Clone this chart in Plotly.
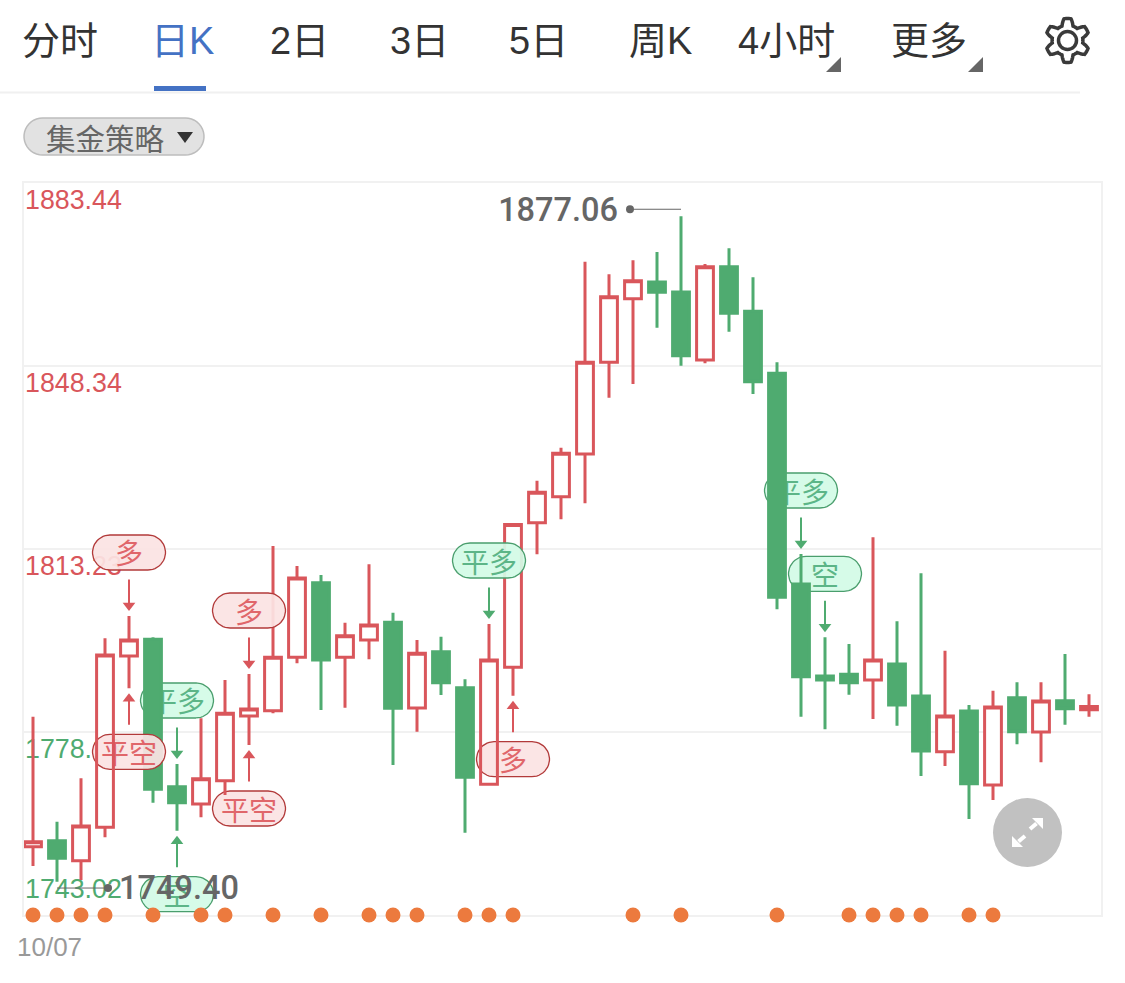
import numpy as np
import plotly.graph_objects as go

# ---- data -------------------------------------------------------------
date_label = "10/07"
open_ = [1756.12,1757.27,1753.44,1759.84,1792.70,1795.91,1767.63,1764.31,1768.78,1781.19,
         1782.21,1792.46,1806.77,1792.46,1795.77,1799.17,1782.73,1793.53,1786.62,1768.09,
         1790.54,1818.28,1823.26,1831.45,1849.04,1861.25,1864.45,1862.53,1849.49,1867.38,
         1858.83,1846.93,1806.52,1788.87,1789.19,1788.10,1791.17,1785.03,1774.35,1782.15,
         1767.96,1784.70,1778.13,1784.13,1782.40]
high  = [1781.06,1760.92,1769.24,1796.10,1800.38,1796.29,1771.99,1780.75,1788.10,1789.25,
         1813.81,1809.97,1808.24,1799.09,1810.29,1801.01,1795.77,1796.41,1788.23,1798.84,
         1818.03,1826.33,1832.66,1868.34,1865.93,1868.61,1870.20,1877.06,1867.90,1870.91,
         1865.35,1849.04,1812.27,1796.29,1795.01,1815.47,1799.36,1808.57,1793.72,1783.30,
         1786.05,1787.66,1787.66,1793.09,1785.36]
low   = [1752.42,1749.40,1749.73,1757.93,1786.51,1764.56,1759.19,1761.76,1766.04,1775.63,
         1781.71,1791.30,1782.35,1782.79,1792.07,1771.79,1778.18,1785.22,1758.81,1768.05,
         1785.09,1812.21,1818.93,1822.00,1842.25,1844.88,1855.68,1848.39,1848.85,1854.91,
         1842.96,1801.66,1781.06,1778.64,1785.28,1780.62,1779.33,1769.68,1771.60,1761.44,
         1765.08,1775.76,1772.31,1779.53,1781.06]
close = [1757.08,1753.90,1760.09,1792.90,1795.77,1767.13,1764.56,1769.17,1781.71,1782.54,
         1792.46,1807.67,1791.94,1796.60,1798.65,1782.67,1793.22,1787.58,1769.43,1791.94,
         1817.95,1824.11,1831.59,1849.04,1861.63,1864.70,1862.47,1850.31,1867.38,1858.44,
         1845.32,1803.96,1788.73,1788.10,1787.58,1791.94,1783.30,1774.48,1781.19,1768.21,
         1782.92,1778.18,1784.07,1782.60,1783.00]
tick_values = [1883.44, 1848.34, 1813.23, 1778.13, 1743.02]
tick_labels = ["1883.44", "1848.34", "1813.23", "1778.13", "1743.02"]
dot_indices = [0,1,2,3,5,7,8,10,12,14,15,16,18,19,20,25,27,31,34,35,36,37,39,40]
# (bar index, label, side: "above"/"below" the bar, colour group)
signals = [(4,"多","above","red"),(4,"平空","below","red"),
           (6,"平多","above","green"),(6,"空","below","green"),
           (9,"多","above","red"),(9,"平空","below","red"),
           (19,"平多","above","green"),(20,"多","below","red"),
           (32,"平多","above","green"),(33,"空","above","green")]
tabs = [("分时",60),("日K",182),("2日",299),("3日",419),("5日",538),("周K",660),("4小时",786),("更多",929)]

# ---- layout constants --------------------------------------------------
W, H = 1125, 983
L, R, T, B = 24, 1101, 183, 915
BAR_PX = 24.0
XMIN = -0.375
XMAX = XMIN + (R - L) / BAR_PX
YMIN, YMAX = 1743.02, 1883.44
PX_PER_PRICE = (B - T) / (YMAX - YMIN)
RED, GREEN = "#d9565b", "#4fab70"
PILL = {"red": ("rgba(251,227,227,0.93)", "#b23a3a", "#e0666a"),
        "green": ("rgba(211,251,230,0.93)", "#4a9e6d", "#5cb587")}
CJK = "Noto Sans CJK SC"
LATIN = "Liberation Sans"
CLEAR = "rgba(255,255,255,0)"


def px(x): return (x - L) / (R - L)
def py(y): return 1 - (y - T) / (B - T)


def pill_outline(i, price, half=36.5, rad=17.5):
    a = np.linspace(-np.pi / 2, np.pi / 2, 24)
    xs = np.concatenate([half - rad + rad * np.cos(a), -(half - rad) - rad * np.cos(a[::-1])])
    ys = np.concatenate([rad * np.sin(a), rad * np.sin(a[::-1])])
    xs = np.append(xs, xs[0]); ys = np.append(ys, ys[0])
    return (i + xs / BAR_PX).tolist(), (price + ys / PX_PER_PRICE).tolist()


fig = go.Figure()


def nosel(**kw):
    return dict(hoverinfo="skip", showlegend=False, **kw)


# base layer: axis value labels sit below every candle
offs = [-19, -19, -19, -19, 24]
cols = [RED, RED, RED, GREEN, GREEN]
fig.add_trace(go.Scatter(x=[XMIN + 1 / BAR_PX] * 5, y=[v + o / PX_PER_PRICE for v, o in zip(tick_values, offs)],
                         text=tick_labels, mode="text", textposition="middle right",
                         textfont=dict(family=LATIN, size=26.8, color=cols), cliponaxis=False,
                         yaxis="y", **nosel()))

# white body interiors go below everything else, so a pill shows through hollow bodies
all_idx = list(range(len(open_)))
fig.add_trace(go.Candlestick(
    x=all_idx, open=open_, high=high, low=low, close=close,
    increasing=dict(line=dict(color=CLEAR, width=0), fillcolor="#ffffff"),
    decreasing=dict(line=dict(color=CLEAR, width=0), fillcolor=CLEAR),
    whiskerwidth=0, yaxis="y2", hoverinfo="skip", showlegend=False))

# layered right-to-left: a pill covers its own and later bars, earlier bars cover it
columns = sorted({s[0] for s in signals}, reverse=True)
starts = columns + [0] if columns[-1] != 0 else columns
end = len(open_)
layer = 3
for start in starts:
    idx = list(range(start, end))
    yname = f"y{layer}"
    fig.add_trace(go.Candlestick(
        x=idx, open=[open_[k] for k in idx], high=[high[k] for k in idx],
        low=[low[k] for k in idx], close=[close[k] for k in idx],
        increasing=dict(line=dict(color=RED, width=3), fillcolor=CLEAR),
        decreasing=dict(line=dict(color=GREEN, width=3), fillcolor=GREEN),
        whiskerwidth=0, yaxis=yname, hoverinfo="skip", showlegend=False))
    for (i, label, side, group) in signals:
        if i != start:
            continue
        fill, edge, txt = PILL[group]
        sign = 1 if side == "above" else -1
        base = high[i] if side == "above" else low[i]
        centre = base + sign * 63.5 / PX_PER_PRICE
        xs, ys = pill_outline(i, centre)
        fig.add_trace(go.Scatter(x=xs, y=ys, mode="lines", fill="toself", fillcolor=fill,
                                 line=dict(color=edge, width=1.3), yaxis=yname, **nosel()))
        fig.add_trace(go.Scatter(x=[i], y=[centre - 5 / PX_PER_PRICE], text=[label], mode="text",
                                 textposition="middle center",
                                 textfont=dict(family=CJK, size=28, color=txt), yaxis=yname, **nosel()))
        col = RED if group == "red" else GREEN
        tip_off = 5.5
        fig.add_trace(go.Scatter(x=[i, i],
                                 y=[base + sign * (tip_off + 31) / PX_PER_PRICE,
                                    base + sign * (tip_off + 5) / PX_PER_PRICE],
                                 mode="lines", line=dict(color=col, width=2), yaxis=yname, **nosel()))
        fig.add_trace(go.Scatter(x=[i], y=[base + sign * (tip_off + 5) / PX_PER_PRICE], mode="markers",
                                 marker=dict(symbol="triangle-down" if side == "above" else "triangle-up",
                                             size=11, color=col),
                                 yaxis=yname, **nosel()))
    end = start
    layer += 1
top_y = f"y{layer - 1}"

# high / low call-outs and the orange dots on top
hi_i = int(np.argmax(high)); lo_i = int(np.argmin(low))
hi_y = high[hi_i] + 7 / PX_PER_PRICE
lo_y = low[lo_i] - 6.3 / PX_PER_PRICE
GREY = "#666666"
callout = dict(family="Roboto", size=32.5, color=GREY, weight=500)
fig.add_trace(go.Scatter(x=[hi_i, hi_i - 51 / BAR_PX], y=[hi_y, hi_y], mode="lines",
                         line=dict(color=GREY, width=1), yaxis=top_y, **nosel()))
fig.add_trace(go.Scatter(x=[hi_i - 51 / BAR_PX], y=[hi_y], mode="markers", marker=dict(size=8, color=GREY),
                         yaxis=top_y, cliponaxis=False, **nosel()))
fig.add_trace(go.Scatter(x=[hi_i - 63 / BAR_PX], y=[hi_y - 4 / PX_PER_PRICE], mode="text", text=[f"{high[hi_i]:.2f}"],
                         textposition="middle left", textfont=callout,
                         yaxis=top_y, cliponaxis=False, **nosel()))
fig.add_trace(go.Scatter(x=[lo_i, lo_i + 51 / BAR_PX], y=[lo_y, lo_y], mode="lines",
                         line=dict(color=GREY, width=1), yaxis=top_y, **nosel()))
fig.add_trace(go.Scatter(x=[lo_i + 51 / BAR_PX], y=[lo_y], mode="markers", marker=dict(size=8, color=GREY),
                         yaxis=top_y, cliponaxis=False, **nosel()))
fig.add_trace(go.Scatter(x=[lo_i + 62 / BAR_PX], y=[lo_y - 3 / PX_PER_PRICE], mode="text", text=[f"{low[lo_i]:.2f}"],
                         textposition="middle right", textfont=callout,
                         yaxis=top_y, cliponaxis=False, **nosel()))
fig.add_trace(go.Scatter(x=dot_indices, y=[YMIN] * len(dot_indices), mode="markers",
                         marker=dict(size=15, color="#ec7a3e"), cliponaxis=False, yaxis=top_y, **nosel()))

# ---- chrome ------------------------------------------------------------
ann = []
for name, cx in tabs:
    ann.append(dict(xref="paper", yref="paper", x=px(cx), y=py(41), text=name, showarrow=False,
                    xanchor="center", yanchor="middle",
                    font=dict(family=f"{LATIN}, {CJK}", size=38, color="#4472c4" if name == "日K" else "#333333")))
ann.append(dict(xref="paper", yref="paper", x=px(105), y=py(137), text="集金策略", showarrow=False,
                font=dict(family=CJK, size=29.5, color="#666666"), xanchor="center", yanchor="middle"))
ann.append(dict(xref="paper", yref="paper", x=px(49), y=py(947), text=date_label, showarrow=False,
                font=dict(family=LATIN, size=26, color="#999999"), xanchor="center", yanchor="middle"))


def poly(points):
    return "M " + " L ".join(f"{px(a):.5f},{py(b):.5f}" for a, b in points) + " Z"


shapes = [
    dict(type="rect", xref="paper", yref="paper", x0=px(154), x1=px(206), y0=py(86), y1=py(91),
         fillcolor="#4472c4", line_width=0),
    dict(type="rect", xref="paper", yref="paper", x0=px(0), x1=px(1080), y0=py(91.5), y1=py(93.5),
         fillcolor="#f0f0f0", line_width=0),
    dict(type="path", xref="paper", yref="paper", path=poly([(841, 57), (841, 72), (826, 72)]),
         fillcolor="#666666", line_width=0),
    dict(type="path", xref="paper", yref="paper", path=poly([(983, 57), (983, 72), (968, 72)]),
         fillcolor="#666666", line_width=0),
    dict(type="path", xref="paper", yref="paper", path=poly([(177, 132), (193, 132), (185, 143)]),
         fillcolor="#333333", line_width=0),
    dict(type="circle", xref="paper", yref="paper", x0=px(993), x1=px(1062), y0=py(798), y1=py(867),
         fillcolor="#c1c1c1", line_width=0),
]
# pill button
a = np.linspace(-np.pi / 2, np.pi / 2, 20)
btn = [(204 - 18.5 + 18.5 * np.cos(t), 136.5 + 18.5 * np.sin(t)) for t in a] + \
      [(24 + 18.5 - 18.5 * np.cos(t), 136.5 - 18.5 * np.sin(t)) for t in a]
shapes.insert(0, dict(type="path", xref="paper", yref="paper", path=poly(btn), fillcolor="#e2e2e2",
                      line=dict(color="#bdbdbd", width=1.5)))
# gear outline
gx, gy = 1067.5, 40.5
th = np.linspace(0, 2 * np.pi, 241)
rr = 18.7 + 3.3 * np.clip(1.7 * np.cos(6 * (th - np.pi / 2)), -1, 1)
gear = [(gx + r * np.cos(t), gy + r * np.sin(t)) for r, t in zip(rr, th)]
shapes.append(dict(type="path", xref="paper", yref="paper", path=poly(gear), line=dict(color="#3a3a3a", width=3.5)))
shapes.append(dict(type="circle", xref="paper", yref="paper", x0=px(gx - 9), x1=px(gx + 9),
                   y0=py(gy + 9), y1=py(gy - 9), line=dict(color="#3a3a3a", width=3.5)))
# expand arrows
for tip, tail, l1, l2 in [((1043, 818), (1030, 829), (1032, 818), (1043, 829)),
                          ((1012, 847), (1025, 836), (1023, 847), (1012, 836))]:
    shapes.append(dict(type="path", xref="paper", yref="paper", path=poly([tip, l1, l2]),
                       fillcolor="#ffffff", line_width=0))
    shapes.append(dict(type="line", xref="paper", yref="paper", x0=px(tail[0]), y0=py(tail[1]),
                       x1=px((tip[0] + tail[0]) / 2), y1=py((tip[1] + tail[1]) / 2),
                       line=dict(color="#ffffff", width=4)))

layout = dict(
    width=W, height=H, paper_bgcolor="#ffffff", plot_bgcolor="#ffffff",
    margin=dict(l=L, r=W - R, t=T, b=H - B), showlegend=False, dragmode=False,
    boxmode="overlay", boxgap=0.3, boxgroupgap=0,
    annotations=ann, shapes=shapes,
    xaxis=dict(range=[XMIN, XMAX], type="linear", showgrid=False, zeroline=False, showticklabels=False,
               ticks="", showline=True, mirror=True, linecolor="#f1f1f1", linewidth=2, layer="below traces",
               rangeslider=dict(visible=False), fixedrange=True),
    yaxis=dict(range=[YMIN, YMAX], tickvals=tick_values, showticklabels=False, ticks="", showgrid=True,
               gridcolor="#f1f1f1", gridwidth=2, zeroline=False, showline=True, mirror=True,
               linecolor="#f1f1f1", linewidth=2, layer="below traces", fixedrange=True),
)
for n in range(2, layer):
    layout[f"yaxis{n}"] = dict(range=[YMIN, YMAX], overlaying="y", visible=False, fixedrange=True, anchor="x")
fig.update_layout(**layout)
fig.write_html("out.html", config=dict(displayModeBar=False),
               post_script="document.body.style.margin='0';document.documentElement.style.overflow='hidden';")
